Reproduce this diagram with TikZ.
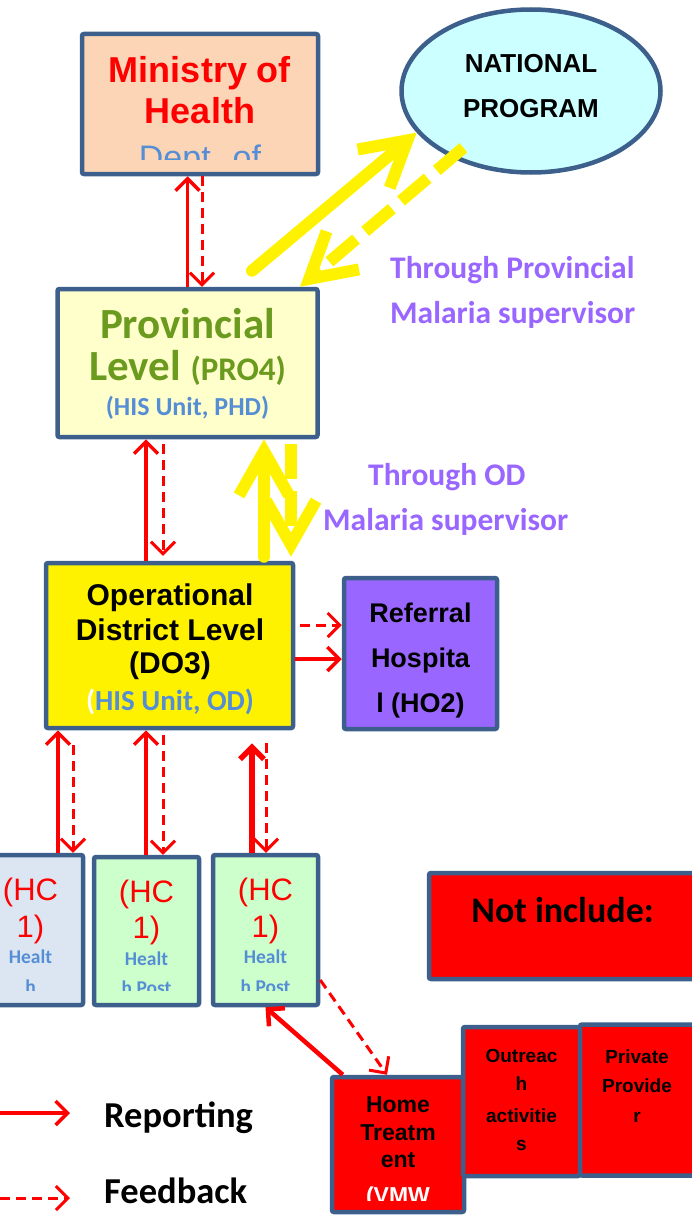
\documentclass[tikz,border=0pt]{standalone}
\usepackage{fontspec}
\setmainfont{Carlito}
\newfontfamily\arialfont{Liberation Sans}
\usetikzlibrary{arrows.meta, shapes.geometric}
\definecolor{boxline}{HTML}{3C5F8C}
\definecolor{peach}{HTML}{FBD5B5}
\definecolor{paleyellow}{HTML}{FFFFCC}
\definecolor{palecyan}{HTML}{CCFFFF}
\definecolor{palegreen}{HTML}{CCFFCC}
\definecolor{palegray}{HTML}{DCE6F2}
\definecolor{olivetext}{HTML}{6A9A1E}
\definecolor{hisblue}{HTML}{558ED5}
\definecolor{lilac}{HTML}{9966FF}
\newcommand{\fsz}[1]{\fontsize{#1}{#1}\selectfont}
\tikzset{
  box/.style={draw=boxline, line width=4.5pt, rounded corners=2pt, inner sep=0pt},
  txt/.style={anchor=base, inner sep=0pt},
  rep/.style={draw=red, line width=3.5pt, -{Straight Barb[length=12pt,width=24pt]}},
  fb/.style={rep, line width=3pt, dash pattern=on 10pt off 6pt},
  yel/.style={draw=yellow, line width=12pt, line cap=round, -{Straight Barb[length=44pt,width=50pt]}},
  yeldash/.style={yel, line cap=butt, dash pattern=on 35pt off 12pt},
}

\begin{document}
\begin{tikzpicture}[x=1pt, y=-1pt]
    \useasboundingbox (0,0) rectangle (692,1215);

    % boxes
    \node[box, fill=peach, minimum width=236pt, minimum height=140pt] (min) at (200,104) {};
    \node[box, ellipse, fill=palecyan, minimum width=259pt, minimum height=163pt] (nat) at (531,91) {};
    \node[box, fill=paleyellow, minimum width=260pt, minimum height=148pt] (prov) at (187.5,363) {};
    \node[box, fill=yellow, minimum width=247pt, minimum height=165pt] (od) at (169.5,645.5) {};
    \node[box, fill=lilac, minimum width=153pt, minimum height=151pt] (ref) at (420.5,653.5) {};
    \node[box, fill=palegray, minimum width=105pt, minimum height=150pt] (hc1) at (30.5,930) {};
    \node[box, fill=palegreen, minimum width=105pt, minimum height=148pt] (hc2) at (146.5,931) {};
    \node[box, fill=palegreen, minimum width=105pt, minimum height=150pt] (hc3) at (265.5,930) {};
    \node[box, fill=red, minimum width=271pt, minimum height=106pt] (notinc) at (564.5,926) {};
    \node[box, fill=red, minimum width=132pt, minimum height=135pt] (home) at (398,1144.5) {};
    \node[box, fill=red, minimum width=117pt, minimum height=149pt] (outr) at (521.5,1101.5) {};
    \node[box, fill=red, minimum width=120pt, minimum height=151pt] (priv) at (640,1100) {};

    % texts
    \node[txt, text=red, font=\arialfont\bfseries\fsz{36}] (min1) at (200,82) {Ministry of};
    \node[txt, text=red, font=\arialfont\bfseries\fsz{36}] (min2) at (200,123) {Health};
    \begin{scope}
        \clip (82,34) rectangle (318,159);
        \node[txt, text=hisblue, font=\arialfont\fsz{34}] (min3) at (200,169) {Dept. of};
    \end{scope}
    \node[txt, font=\arialfont\bfseries\fsz{26}] (nat1) at (531,73) {NATIONAL};
    \node[txt, font=\arialfont\bfseries\fsz{26}] (nat2) at (531,117) {PROGRAM};

    \node[txt, anchor=base west, text=lilac, font=\bfseries\fsz{31.5}] (thp1) at (390,278) {Through Provincial};
    \node[txt, anchor=base west, text=lilac, font=\bfseries\fsz{31.5}] (thp2) at (390,323) {Malaria supervisor};
    \node[txt, anchor=base west, text=lilac, font=\bfseries\fsz{31.5}] (thod1) at (368,485) {Through OD};
    \node[txt, anchor=base west, text=lilac, font=\bfseries\fsz{31.5}] (thod2) at (323,530) {Malaria supervisor};

    \node[txt, text=olivetext, font=\bfseries\fsz{43}] (prov1) at (187.5,338) {Provincial};
    \node[txt, text=olivetext, font=\bfseries\fsz{43}] (prov2) at (187.5,380) {Level {\fsz{33}(PRO4)}};
    \node[txt, text=hisblue, font=\bfseries\fsz{26}] (prov3) at (187.5,415) {(HIS Unit, PHD)};

    \node[txt, font=\arialfont\bfseries\fsz{30}] (od1) at (170,605) {Operational};
    \node[txt, font=\arialfont\bfseries\fsz{30}] (od2) at (170,640) {District Level};
    \node[txt, font=\arialfont\bfseries\fsz{30}] (od3) at (170,673) {(DO3)};
    \node[txt, text=hisblue, font=\bfseries\fsz{29}] (od4) at (170,710) {\textcolor{white}{(}HIS Unit, OD)};

    \node[txt, font=\arialfont\bfseries\fsz{27}] (ref1) at (420.5,622) {Referral};
    \node[txt, font=\arialfont\bfseries\fsz{27}] (ref2) at (420.5,667) {Hospita};
    \node[txt, font=\arialfont\bfseries\fsz{27}] (ref3) at (420.5,712) {l (HO2)};

    \node[txt, text=red, font=\arialfont\fsz{31}] (hc1a) at (30.5,900) {(HC};
    \node[txt, text=red, font=\arialfont\fsz{31}] (hc1b) at (30.5,937) {1)};
    \node[txt, text=hisblue, font=\bfseries\fsz{19.5}] (hc1c) at (30.5,963) {Healt};
    \node[txt, text=red, font=\arialfont\fsz{31}] (hc2a) at (146.5,902) {(HC};
    \node[txt, text=red, font=\arialfont\fsz{31}] (hc2b) at (146.5,938) {1)};
    \node[txt, text=hisblue, font=\bfseries\fsz{19.5}] (hc2c) at (146.5,965) {Healt};
    \node[txt, text=red, font=\arialfont\fsz{31}] (hc3a) at (265.5,900) {(HC};
    \node[txt, text=red, font=\arialfont\fsz{31}] (hc3b) at (265.5,937) {1)};
    \node[txt, text=hisblue, font=\bfseries\fsz{19.5}] (hc3c) at (265.5,963) {Healt};
    \begin{scope}
        \clip (-30,940) rectangle (330,990);
        \node[txt, text=hisblue, font=\bfseries\fsz{19.5}] (hc1d) at (30.5,993) {h};
        \node[txt, text=hisblue, font=\bfseries\fsz{19.5}] (hc2d) at (146.5,994) {h Post};
        \node[txt, text=hisblue, font=\bfseries\fsz{19.5}] (hc3d) at (265.5,993) {h Post};
    \end{scope}

    \node[txt, font=\bfseries\fsz{36}] (notinc1) at (562.5,922) {Not include:};

    \node[txt, font=\arialfont\bfseries\fsz{23}] (home1) at (398,1112) {Home};
    \node[txt, font=\arialfont\bfseries\fsz{23}] (home2) at (398,1140) {Treatm};
    \node[txt, font=\arialfont\bfseries\fsz{23}] (home3) at (398,1167) {ent};
    \begin{scope}
        \clip (333,1170) rectangle (463,1200);
        \node[txt, text=white, font=\arialfont\bfseries\fsz{23}] (home4) at (398,1203) {(VMW};
    \end{scope}
    \node[txt, font=\arialfont\bfseries\fsz{19}] (outr1) at (521.5,1062) {Outreac};
    \node[txt, font=\arialfont\bfseries\fsz{19}] (outr2) at (521.5,1090) {h};
    \node[txt, font=\arialfont\bfseries\fsz{19}] (outr3) at (521.5,1122) {activitie};
    \node[txt, font=\arialfont\bfseries\fsz{19}] (outr4) at (521.5,1150) {s};
    \node[txt, font=\arialfont\bfseries\fsz{19}] (priv1) at (637,1063) {Private};
    \node[txt, font=\arialfont\bfseries\fsz{19}] (priv2) at (637,1092) {Provide};
    \node[txt, font=\arialfont\bfseries\fsz{19}] (priv3) at (637,1122) {r};

    % legend
    \node[txt, anchor=base west, font=\bfseries\fsz{36.5}] (replab) at (104,1127) {Reporting};
    \node[txt, anchor=base west, font=\bfseries\fsz{36.5}] (fblab) at (104,1203) {Feedback};
    \coordinate (rep0) at (0,1113);
    \coordinate (fb0) at (0,1198);

    % yellow arrows
    \draw[yel] ([xshift=64.5pt,yshift=16pt]prov.north) -- (nat.200);
    \draw[yeldash] ([xshift=12pt,yshift=10pt]nat.220) -- ([xshift=112.5pt]prov.north);
    \draw[yel] ([xshift=94.5pt,yshift=4pt]od.north) -- ([xshift=76.5pt]prov.south);
    \draw[yeldash] ([xshift=103.5pt,yshift=-5pt]prov.south) -- ([xshift=121.5pt,yshift=4pt]od.north);

    % reporting and feedback
    \draw[rep] (prov.north) -- (prov.north |- min.south);
    \draw[fb] ([xshift=2pt]min.south) -- ([xshift=14.5pt]prov.north);
    \draw[rep] ([xshift=-23.5pt]od.north) -- ([xshift=-41.5pt]prov.south);
    \draw[fb] ([xshift=-24.5pt,yshift=-5pt]prov.south) -- ([xshift=-6.5pt,yshift=5pt]od.north);
    \draw[fb] ([xshift=5pt,yshift=20.5pt]od.east) -- ([yshift=28.5pt]ref.west);
    \draw[rep] ([yshift=-13.5pt]od.east) -- ([yshift=-5.5pt]ref.west);
    \draw[rep] ([xshift=27.5pt]hc1.north) -- ([xshift=-111.5pt]od.south);
    \draw[fb] ([xshift=-96.5pt,yshift=-15pt]od.south) -- ([xshift=42.5pt]hc1.north);
    \draw[rep] ([xshift=-0.5pt]hc2.north) -- ([xshift=-23.5pt]od.south);
    \draw[fb] ([xshift=-6.5pt,yshift=-5pt]od.south) -- ([xshift=16.5pt]hc2.north);
    \draw[rep, line width=5.5pt] ([xshift=-13.5pt]hc3.north) -- ([xshift=82.5pt,yshift=-13pt]od.south);
    \draw[fb] ([xshift=96.5pt,yshift=-13pt]od.south) -- ([xshift=0.5pt]hc3.north);
    \draw[rep, line width=4.5pt] ([xshift=13pt]home.north west) -- (hc3.south);
    \draw[fb] ([yshift=-50pt]hc3.east) -- ([xshift=-11pt]home.north);
    \draw[rep] (rep0) -- ([xshift=-34pt]replab.west |- rep0);
    \draw[fb] (fb0) -- ([xshift=-34pt]fblab.west |- fb0);
\end{tikzpicture}
\end{document}
